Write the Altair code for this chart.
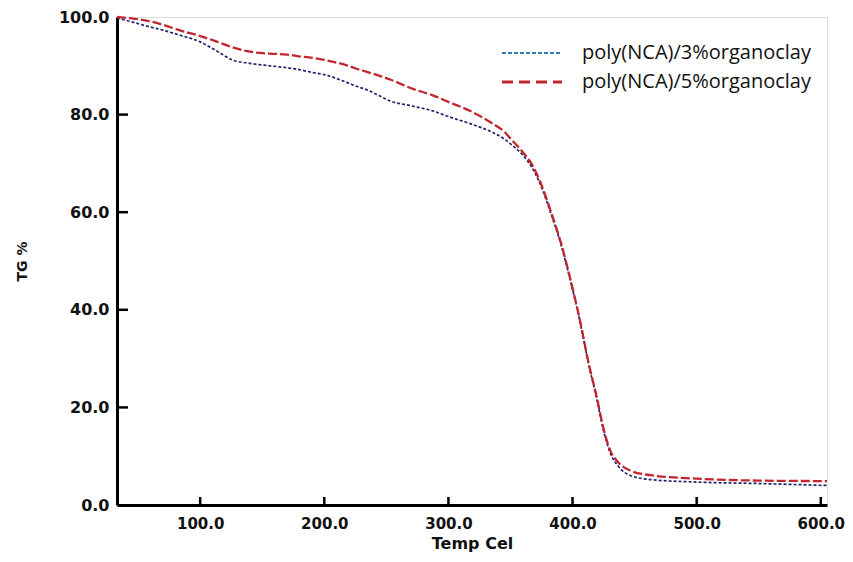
import altair as alt
import pandas as pd

# ---- data ----
temp = [33, 45, 56, 70, 82, 100, 113, 126, 140, 156, 170, 178, 191, 200, 218, 226,
        235, 244, 253, 270, 288, 300, 318, 336, 345, 351, 360, 367, 373, 383, 391,
        399, 406, 413, 419.5, 425, 430, 437, 447, 463, 500, 550, 605]
tg_5 = [100.0, 99.7, 99.3, 98.4, 97.4, 96.1, 95.0, 93.8, 92.9, 92.5, 92.3, 92.0, 91.6,
        91.2, 90.1, 89.4, 88.7, 88.0, 87.2, 85.4, 83.9, 82.6, 80.7, 78.1, 76.5, 74.8,
        72.3, 69.9, 66.8, 59.8, 53.4, 45.5, 37.8, 29.0, 22.1, 15.6, 11.4, 8.7, 7.0,
        6.1, 5.4, 5.0, 4.9]
tg_3 = [99.8, 99.0, 98.2, 97.3, 96.4, 94.9, 93.1, 91.2, 90.5, 90.0, 89.6, 89.3, 88.6,
        88.2, 86.6, 85.8, 85.0, 83.9, 82.8, 81.8, 80.7, 79.6, 78.1, 76.3, 75.0, 73.8,
        71.7, 69.3, 66.3, 59.4, 53.1, 45.2, 37.6, 28.8, 21.8, 15.2, 10.9, 7.9, 6.0,
        5.2, 4.7, 4.4, 4.0]
legend_labels = ["poly(NCA)/3%organoclay", "poly(NCA)/5%organoclay"]
x_ticks = [100, 200, 300, 400, 500, 600]
y_ticks = [0, 20, 40, 60, 80, 100]
y_inner_ticks = [20, 40, 60, 80]

W, H = 710, 488
X_DOMAIN = [33, 605]
Y_DOMAIN = [0, 100]

BLUE_LINE = "#23236b"
RED_LINE = "#c1262f"
BLUE_LEG = "#2f7fb5"
RED_LEG = "#c0262d"

df3 = pd.DataFrame({"T": temp, "TG": tg_3})
df5 = pd.DataFrame({"T": temp, "TG": tg_5})

xscale = alt.Scale(domain=X_DOMAIN, nice=False, zero=False)
yscale = alt.Scale(domain=Y_DOMAIN, nice=False, zero=False)

x_axis = alt.Axis(values=x_ticks, format=".1f", title="Temp Cel", grid=False,
                  ticks=False, tickSize=0, domainColor="black", domainWidth=3,
                  labelFont="DejaVu Sans", labelFontWeight="bold", labelFontSize=15,
                  labelColor="#111", labelBaseline="middle", labelPadding=18,
                  labelFlush=False, labelOverlap=False, labelBound=False,
                  titleFont="DejaVu Sans", titleFontWeight="bold", titleFontSize=16,
                  titleColor="#111", titleY=38, titleBaseline="middle")
y_axis = alt.Axis(values=y_ticks, format=".1f", title="TG %", grid=False,
                  ticks=False, tickSize=0, domainColor="black", domainWidth=3,
                  labelFont="DejaVu Sans", labelFontWeight="bold", labelFontSize=16,
                  labelColor="#111", labelPadding=8,
                  labelFlush=False, labelOverlap=False, labelBound=False,
                  titleFont="DejaVu Sans", titleFontWeight="bold", titleFontSize=14,
                  titleColor="#111", titleAngle=270, titleX=-95, titleY=H / 2,
                  titleBaseline="middle")

line3 = alt.Chart(df3).mark_line(
    color=BLUE_LINE, strokeDash=[3, 2], strokeWidth=1.7, interpolate="monotone"
).encode(
    x=alt.X("T:Q", scale=xscale, axis=x_axis),
    y=alt.Y("TG:Q", scale=yscale, axis=y_axis),
)
line5 = alt.Chart(df5).mark_line(
    color=RED_LINE, strokeDash=[9, 3], strokeWidth=2.3, interpolate="monotone"
).encode(
    x=alt.X("T:Q", scale=xscale, axis=None),
    y=alt.Y("TG:Q", scale=yscale, axis=None),
)

# inward tick marks (lengths derived from pixel sizes through the scales)
XT_LEN = 8 / H * (Y_DOMAIN[1] - Y_DOMAIN[0])
YT_LEN = 11 / W * (X_DOMAIN[1] - X_DOMAIN[0])
xt_df = pd.DataFrame({"tx": x_ticks})
xt_df["y0"] = Y_DOMAIN[0]
xt_df["y1"] = Y_DOMAIN[0] + XT_LEN
yt_df = pd.DataFrame({"ty": y_inner_ticks})
yt_df["x0"] = X_DOMAIN[0]
yt_df["x1"] = X_DOMAIN[0] + YT_LEN

xt = alt.Chart(xt_df).mark_rule(color="black", strokeWidth=2.5).encode(
    x=alt.X("tx:Q", scale=xscale, axis=None),
    y=alt.Y("y0:Q", scale=yscale, axis=None),
    y2="y1:Q",
)
yt = alt.Chart(yt_df).mark_rule(color="black", strokeWidth=2.5).encode(
    y=alt.Y("ty:Q", scale=yscale, axis=None),
    x=alt.X("x0:Q", scale=xscale, axis=None),
    x2="x1:Q",
)

# manual legend
leg_rows = [
    (legend_labels[0], BLUE_LEG, [4, 2], 2.0, 36),
    (legend_labels[1], RED_LEG, [11, 6], 3.0, 65),
]
leg_layers = []
for lab, col, dash, sw, ypix in leg_rows:
    d = pd.DataFrame({"label": [lab]})
    leg_layers.append(
        alt.Chart(d).mark_rule(color=col, strokeDash=dash, strokeWidth=sw).encode(
            x=alt.value(385), x2=alt.value(445), y=alt.value(ypix)
        )
    )
    leg_layers.append(
        alt.Chart(d).mark_text(align="left", baseline="middle", font="Open Sans",
                               fontSize=20, color="#111").encode(
            x=alt.value(465), y=alt.value(ypix), text="label:N"
        )
    )

chart = alt.layer(line3, line5, xt, yt, *leg_layers).resolve_axis(
    x="independent", y="independent"
).properties(
    width=W, height=H,
    autosize=alt.AutoSizeParams(type="none"),
    padding={"left": 109, "top": 9, "right": 18, "bottom": 47},
).configure_view(
    stroke="#666", strokeWidth=1.5
).configure(background="white")

chart.save("out.html", embed_options={"renderer": "svg", "actions": False})
